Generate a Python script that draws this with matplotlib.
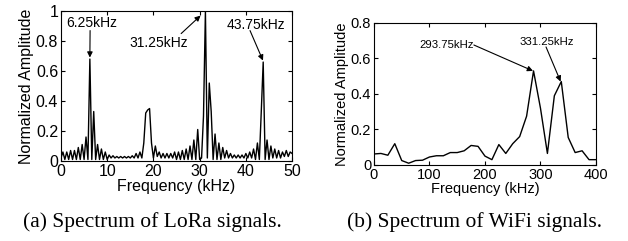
import numpy as np
import matplotlib
matplotlib.use("Agg")
import matplotlib.pyplot as plt

plt.rcParams["font.family"] = ["Liberation Sans", "DejaVu Sans"]

# (a) LoRa spectrum, 0-50 kHz
lora_amp = [
    0.02, 0.06, 0.01, 0.06, 0.01, 0.07, 0.01, 0.07, 0.01, 0.09,
    0.01, 0.11, 0.01, 0.16, 0.01, 0.68, 0.01, 0.33, 0.01, 0.11,
    0.01, 0.08, 0.01, 0.06, 0.01, 0.04, 0.02, 0.035, 0.02, 0.03,
    0.02, 0.03, 0.02, 0.03, 0.02, 0.03, 0.02, 0.035, 0.02, 0.05,
    0.02, 0.06, 0.02, 0.12, 0.32, 0.34, 0.35, 0.12, 0.02, 0.10,
    0.03, 0.06, 0.02, 0.05, 0.02, 0.05, 0.02, 0.05, 0.02, 0.06,
    0.01, 0.06, 0.01, 0.07, 0.01, 0.08, 0.01, 0.10, 0.01, 0.14,
    0.01, 0.21, 0.01, 0.02, 0.30, 1.00, 0.02, 0.52, 0.33, 0.01,
    0.18, 0.01, 0.12, 0.01, 0.09, 0.02, 0.07, 0.02, 0.05, 0.02,
    0.04, 0.02, 0.04, 0.02, 0.04, 0.02, 0.05, 0.02, 0.06, 0.02,
    0.08, 0.01, 0.12, 0.01, 0.33, 0.66, 0.01, 0.14, 0.01, 0.10,
    0.02, 0.08, 0.02, 0.07, 0.02, 0.06, 0.03, 0.07, 0.03, 0.06,
    0.05,
]
lora_freq = np.linspace(0, 50, len(lora_amp))

# (b) WiFi spectrum, 0-400 kHz
wifi_freq = np.arange(0, 400.1, 12.5)
wifi_amp = [
    0.062, 0.065, 0.055, 0.12, 0.025, 0.01, 0.025, 0.027, 0.045, 0.052,
    0.052, 0.07, 0.07, 0.08, 0.11, 0.105, 0.05, 0.03, 0.115, 0.065,
    0.12, 0.16, 0.275, 0.53, 0.32, 0.065, 0.39, 0.47, 0.155, 0.07,
    0.08, 0.03, 0.03,
]

fig = plt.figure(figsize=(6.28, 2.41), dpi=100)
ax1 = fig.add_axes([0.0971, 0.332, 0.368, 0.622])
ax2 = fig.add_axes([0.5955, 0.3154, 0.3535, 0.5892])

# left panel
ax1.plot(lora_freq, lora_amp, color="black", lw=1.0)
ax1.set_xlim(0, 50)
ax1.set_ylim(0, 1)
ax1.set_xticks([0, 10, 20, 30, 40, 50])
ax1.set_yticks([0, 0.2, 0.4, 0.6, 0.8, 1])
ax1.set_yticklabels(["0", "0.2", "0.4", "0.6", "0.8", "1"])
ax1.set_xlabel("Frequency (kHz)", fontsize=11.5, labelpad=0)
ax1.set_ylabel("Normalized Amplitude", fontsize=11.5, labelpad=1)
ax1.tick_params(direction="in", top=True, right=True, labelsize=11.5,
                length=3, pad=2)

arrow = dict(arrowstyle="-|>", color="black", lw=0.8, mutation_scale=8,
             shrinkA=0, shrinkB=0)
ax1.text(6.7, 0.92, "6.25kHz", fontsize=10, ha="center", va="center")
ax1.annotate("", xy=(6.25, 0.69), xytext=(6.3, 0.87), arrowprops=arrow)
ax1.text(21.2, 0.79, "31.25kHz", fontsize=10, ha="center", va="center")
ax1.annotate("", xy=(30.2, 0.97), xytext=(26.0, 0.85), arrowprops=arrow)
ax1.text(42.2, 0.91, "43.75kHz", fontsize=10, ha="center", va="center")
ax1.annotate("", xy=(43.7, 0.67), xytext=(40.9, 0.87), arrowprops=arrow)

# right panel
ax2.plot(wifi_freq, wifi_amp, color="black", lw=1.0)
ax2.set_xlim(0, 400)
ax2.set_ylim(0, 0.8)
ax2.set_xticks([0, 100, 200, 300, 400])
ax2.set_yticks([0, 0.2, 0.4, 0.6, 0.8])
ax2.set_yticklabels(["0", "0.2", "0.4", "0.6", "0.8"])
ax2.set_xlabel("Frequency (kHz)", fontsize=10.5, labelpad=0)
ax2.set_ylabel("Normalized Amplitude", fontsize=10.5, labelpad=1)
ax2.tick_params(direction="in", top=True, right=True, labelsize=10.5,
                length=3, pad=2)

ax2.text(131.5, 0.676, "293.75kHz", fontsize=8.2, ha="center", va="center")
ax2.annotate("", xy=(286.5, 0.53), xytext=(180, 0.676), arrowprops=arrow)
ax2.text(311.7, 0.693, "331.25kHz", fontsize=8.2, ha="center", va="center")
ax2.annotate("", xy=(336.3, 0.47), xytext=(310, 0.665), arrowprops=arrow)

fig.text(0.242, 0.079, "(a) Spectrum of LoRa signals.", fontsize=15.5,
         family=["Liberation Serif", "DejaVu Serif"], ha="center", va="center")
fig.text(0.756, 0.079, "(b) Spectrum of WiFi signals.", fontsize=15.5,
         family=["Liberation Serif", "DejaVu Serif"], ha="center", va="center")

fig.savefig("out.png", dpi=100)
